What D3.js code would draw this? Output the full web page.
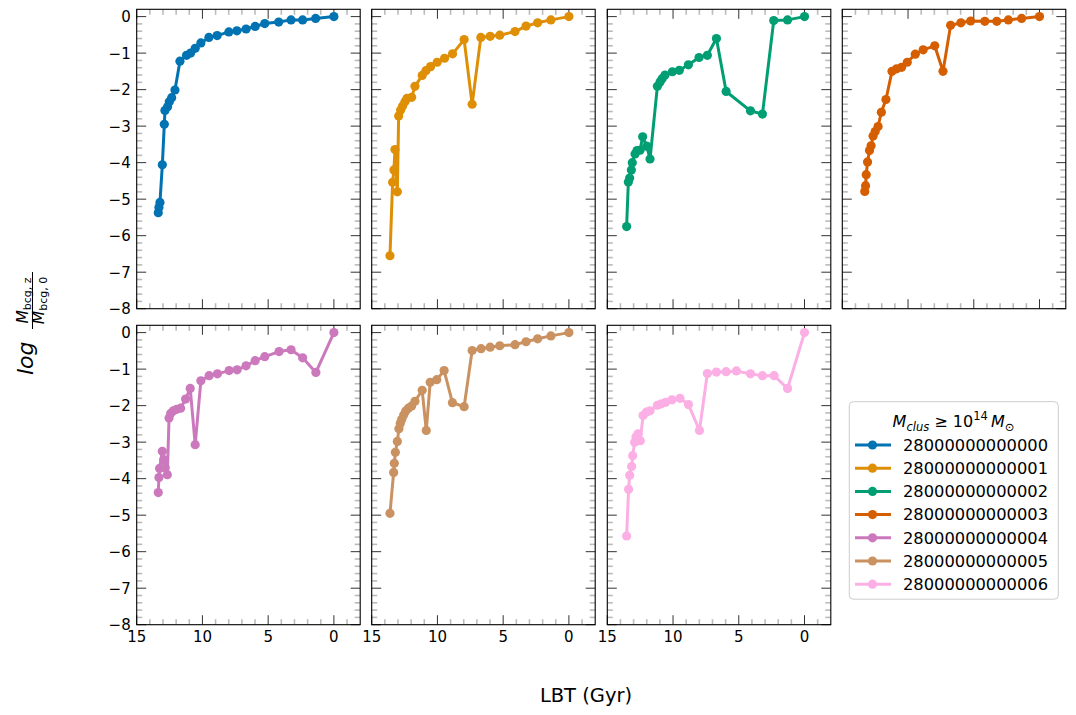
<!DOCTYPE html>
<html><head><meta charset="utf-8">
<script src="https://cdn.jsdelivr.net/npm/d3@7/dist/d3.min.js"></script>
<style>
body{margin:0;background:#fff}
svg{display:block}
text{font-family:"DejaVu Sans",sans-serif;fill:#000}
</style>
</head><body>
<svg id="c" width="1076" height="715"></svg>
<script>
// ---------------- data ----------------
const haloIds = ["28000000000000","28000000000001","28000000000002","28000000000003","28000000000004","28000000000005","28000000000006"];
const colors = ["#0173b2","#de8f05","#029e73","#d55e00","#cc78bc","#ca9161","#fbafe4"];

const lbt_0 = [13.36,13.31,13.23,13.05,12.90,12.85,12.65,12.52,12.34,12.09,11.71,11.21,10.90,10.55,10.12,9.51,8.88,7.99,7.38,6.68,5.99,5.26,4.20,3.26,2.38,1.39,0];
const logm_0 = [-5.37,-5.23,-5.09,-4.06,-2.95,-2.57,-2.47,-2.33,-2.22,-2.01,-1.22,-1.06,-1.00,-0.87,-0.72,-0.57,-0.52,-0.42,-0.39,-0.34,-0.27,-0.19,-0.15,-0.09,-0.09,-0.05,0];

const lbt_1 = [13.61,13.41,13.31,13.23,13.05,12.95,12.80,12.65,12.47,12.32,11.96,11.71,11.16,10.88,10.52,10.02,9.46,8.85,7.97,7.36,6.70,5.99,5.26,4.10,3.26,2.38,1.37,0];
const logm_1 = [-6.55,-4.54,-4.20,-3.64,-4.80,-2.72,-2.56,-2.45,-2.33,-2.24,-2.21,-1.91,-1.61,-1.48,-1.37,-1.25,-1.14,-1.02,-0.63,-2.40,-0.57,-0.54,-0.51,-0.41,-0.26,-0.17,-0.09,0];

const lbt_2 = [13.53,13.40,13.30,13.17,13.10,12.89,12.74,12.51,12.31,12.00,11.75,11.19,10.99,10.83,10.61,10.05,9.52,8.83,8.02,7.39,6.70,5.96,4.11,3.20,2.34,1.29,0];
const logm_2 = [-5.75,-4.53,-4.42,-4.20,-4.00,-3.76,-3.67,-3.66,-3.29,-3.55,-3.90,-1.91,-1.79,-1.70,-1.60,-1.51,-1.47,-1.32,-1.12,-1.06,-0.60,-2.05,-2.58,-2.67,-0.11,-0.09,0];

const lbt_3 = [13.29,13.23,13.18,13.08,12.93,12.81,12.66,12.50,12.28,12.03,11.68,11.22,10.87,10.49,10.06,9.45,8.85,7.97,7.34,6.76,5.98,5.24,4.16,3.25,2.37,1.36,0];
const logm_3 = [-4.79,-4.63,-4.33,-3.98,-3.67,-3.54,-3.27,-3.15,-3.01,-2.62,-2.27,-1.50,-1.43,-1.39,-1.25,-1.03,-0.91,-0.80,-1.50,-0.24,-0.17,-0.12,-0.13,-0.13,-0.09,-0.05,0];

const lbt_4 = [13.36,13.31,13.26,13.05,12.95,12.83,12.67,12.54,12.41,12.21,11.96,11.66,11.28,10.93,10.55,10.12,9.49,8.86,7.97,7.36,6.68,5.99,5.26,4.17,3.26,2.38,1.37,0];
const logm_4 = [-4.38,-3.97,-3.72,-3.25,-3.48,-3.70,-3.89,-2.34,-2.21,-2.14,-2.10,-2.07,-1.82,-1.53,-3.07,-1.32,-1.18,-1.13,-1.04,-1.02,-0.91,-0.77,-0.66,-0.52,-0.47,-0.69,-1.09,0];

const lbt_5 = [13.61,13.33,13.28,13.20,13.05,12.93,12.83,12.72,12.57,12.41,12.21,11.96,11.71,11.16,10.85,10.55,10.05,9.49,8.86,7.97,7.36,6.68,5.99,5.26,4.10,3.26,2.38,1.37,0];
const logm_5 = [-4.95,-3.83,-3.58,-3.28,-2.98,-2.63,-2.49,-2.38,-2.26,-2.15,-2.07,-2.01,-1.88,-1.58,-2.68,-1.36,-1.29,-1.04,-1.92,-2.03,-0.49,-0.44,-0.40,-0.36,-0.33,-0.25,-0.17,-0.09,0];

const lbt_6 = [13.53,13.38,13.30,13.15,13.07,12.92,12.82,12.66,12.49,12.28,12.03,11.75,11.19,10.89,10.56,10.08,9.47,8.83,7.99,7.39,6.70,5.96,5.18,4.11,3.20,2.31,1.29,0];
const logm_6 = [-5.57,-4.29,-3.91,-3.67,-3.37,-3.00,-2.86,-2.77,-2.96,-2.27,-2.18,-2.14,-1.99,-1.95,-1.91,-1.84,-1.80,-1.97,-2.68,-1.12,-1.08,-1.07,-1.05,-1.13,-1.18,-1.18,-1.53,0];

const xMajorTicks = [15,10,5,0];
const xMinorTicks = [14,13,12,11,9,8,7,6,4,3,2,1,-1];
const yMajorTicks = [0,-1,-2,-3,-4,-5,-6,-7,-8];

const lbtAll = [lbt_0,lbt_1,lbt_2,lbt_3,lbt_4,lbt_5,lbt_6];
const logmAll = [logm_0,logm_1,logm_2,logm_3,logm_4,logm_5,logm_6];
const series = haloIds.map((id,i)=>({id, color:colors[i], pts: lbtAll[i].map((t,j)=>({t, v:logmAll[i][j]}))}));

// ---------------- layout ----------------
const svg = d3.select("#c");
const panelLefts = [136.7, 371.7, 607.3, 842.3];
const panelTops = [9.3, 325.3];
const W = 223.5, H = 299.4;
const x = d3.scaleLinear().domain([15,-2]).range([0,W]);
const y = d3.scaleLinear().domain([-8,0.2]).range([H,0]);
const yMinorTicks = d3.range(-80,2,2).map(d=>d/10).filter(d=>Math.abs(d-Math.round(d))>1e-6);

const fmt = d => (d<0 ? "\u2212"+Math.abs(d) : ""+d);

series.forEach((s,i)=>{
  const col = i%4, row = Math.floor(i/4);
  const g = svg.append("g").attr("transform",`translate(${panelLefts[col]},${panelTops[row]})`);

  const minorLen = 5.5, majorLen = 9.5;
  const tg = g.append("g");
  xMinorTicks.forEach(t=>{
    tg.append("line").attr("x1",x(t)).attr("x2",x(t)).attr("y1",H).attr("y2",H-minorLen).attr("stroke","#bbb").attr("stroke-width",1.6);
    tg.append("line").attr("x1",x(t)).attr("x2",x(t)).attr("y1",0).attr("y2",minorLen).attr("stroke","#bbb").attr("stroke-width",1.6);
  });
  yMinorTicks.forEach(t=>{
    tg.append("line").attr("x1",0).attr("x2",minorLen).attr("y1",y(t)).attr("y2",y(t)).attr("stroke","#bbb").attr("stroke-width",1.6);
    tg.append("line").attr("x1",W).attr("x2",W-minorLen).attr("y1",y(t)).attr("y2",y(t)).attr("stroke","#bbb").attr("stroke-width",1.6);
  });
  xMajorTicks.forEach(t=>{
    tg.append("line").attr("x1",x(t)).attr("x2",x(t)).attr("y1",H).attr("y2",H-majorLen).attr("stroke","#333").attr("stroke-width",1);
    tg.append("line").attr("x1",x(t)).attr("x2",x(t)).attr("y1",0).attr("y2",majorLen).attr("stroke","#333").attr("stroke-width",1);
  });
  yMajorTicks.forEach(t=>{
    tg.append("line").attr("x1",0).attr("x2",majorLen).attr("y1",y(t)).attr("y2",y(t)).attr("stroke","#333").attr("stroke-width",1);
    tg.append("line").attr("x1",W).attr("x2",W-majorLen).attr("y1",y(t)).attr("y2",y(t)).attr("stroke","#333").attr("stroke-width",1);
  });

  if(col===0){
    yMajorTicks.forEach(t=>{
      g.append("text").attr("x",-6).attr("y",y(t)).attr("dy","0.36em").attr("text-anchor","end").attr("font-size",15).text(fmt(t));
    });
  }
  if(row===1){
    xMajorTicks.forEach(t=>{
      g.append("text").attr("x",x(t)).attr("y",H+17.5).attr("text-anchor","middle").attr("font-size",15).text(fmt(t));
    });
  }

  const line = d3.line().x(d=>x(d.t)).y(d=>y(d.v));
  g.append("path").datum(s.pts).attr("d",line).attr("fill","none").attr("stroke",s.color).attr("stroke-width",3).attr("stroke-linejoin","round");
  g.selectAll("circle.pt").data(s.pts).join("circle").attr("class","pt")
    .attr("cx",d=>x(d.t)).attr("cy",d=>y(d.v)).attr("r",4.6).attr("fill",s.color);

  g.append("rect").attr("width",W).attr("height",H).attr("fill","none").attr("stroke","#000").attr("stroke-width",1.1);
});

// x label
svg.append("text").attr("x",586).attr("y",702).attr("text-anchor","middle").attr("font-size",19.5).text("LBT (Gyr)");

// y label (rotated)
const yl = svg.append("g").attr("transform","rotate(-90)");
yl.append("text").attr("x",-375).attr("y",33).attr("font-size",22).attr("font-style","italic").text("log");
yl.append("line").attr("x1",-329).attr("x2",-272).attr("y1",32.5).attr("y2",32.5).attr("stroke","#000").attr("stroke-width",1);
function fracPart(yb, sub){
  const t = yl.append("text").attr("x",-300.5).attr("y",yb).attr("text-anchor","middle").attr("font-size",15.5);
  t.append("tspan").attr("font-style","italic").text("M");
  t.append("tspan").attr("font-size",11).attr("dy",3).text(sub);
}
fracPart(28,"bcg, z");
fracPart(44,"bcg, 0");

// legend
const lg = svg.append("g");
lg.append("rect").attr("x",849.3).attr("y",401.7).attr("width",209).attr("height",197.5).attr("rx",4)
  .attr("fill","#fff").attr("fill-opacity",0.8).attr("stroke","#ccc").attr("stroke-width",1);
const tt = lg.append("text").attr("x",953.5).attr("y",427).attr("text-anchor","middle").attr("font-size",16);
tt.append("tspan").attr("font-style","italic").text("M");
tt.append("tspan").attr("font-style","italic").attr("font-size",11.5).attr("dy",4).text("clus");
tt.append("tspan").attr("dy",-4).text(" \u2265 10");
tt.append("tspan").attr("font-size",11.5).attr("dy",-7).text("14");
tt.append("tspan").attr("dy",7).text("\u2009");
tt.append("tspan").attr("font-style","italic").text("M");
tt.append("tspan").attr("font-size",11.5).attr("dy",4).text("\u2299");

series.forEach((s,i)=>{
  const cy = 445 + i*23.2;
  lg.append("line").attr("x1",855).attr("x2",891).attr("y1",cy).attr("y2",cy).attr("stroke",s.color).attr("stroke-width",3);
  lg.append("circle").attr("cx",872.5).attr("cy",cy).attr("r",4.6).attr("fill",s.color);
  lg.append("text").attr("x",903).attr("y",cy).attr("dy","0.36em").attr("font-size",16.3).text(s.id);
});
</script>
</body></html>
